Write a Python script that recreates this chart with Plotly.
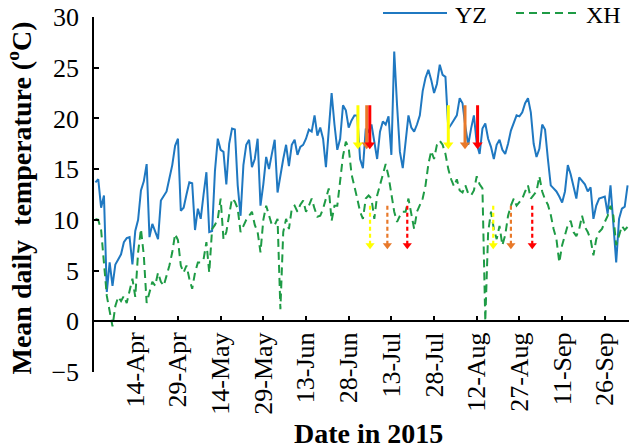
import pandas as pd
import plotly.graph_objects as go

# ---------------- data ----------------
start_date = "2015-03-31"

yz = [13.7, 14.0, 11.2, 12.4, 2.9, 5.8, 3.5, 5.6, 6.1, 6.6,
      7.8, 8.2, 8.3, 5.6, 8.9, 10.0, 12.9, 13.8, 15.5, 8.3,
      9.6, 8.9, 8.1, 11.9, 12.4, 12.8, 14.1, 15.4, 17.3, 18.0,
      10.9, 11.2, 12.5, 13.7, 13.6, 9.0, 11.1, 10.1, 12.5, 14.7,
      8.8, 8.9, 14.8, 18.0, 16.9, 16.7, 13.5, 17.5, 19.0, 18.9,
      13.4, 10.4, 15.4, 17.4, 17.9, 15.2, 16.0, 18.0, 11.4, 13.5,
      16.2, 15.0, 16.5, 17.9, 12.7, 14.5, 16.0, 17.4, 15.3, 17.4,
      17.9, 16.4, 17.2, 17.4, 18.0, 18.9, 18.7, 20.3, 18.3, 19.1,
      18.0, 15.2, 19.0, 22.5, 19.4, 16.9, 18.0, 21.3, 20.8, 19.1,
      19.8, 20.3, 20.3, 16.0, 15.1, 19.0, 18.7, 19.4, 17.7, 16.0,
      18.7, 19.7, 19.4, 20.2, 16.4, 26.6, 21.3, 16.7, 15.1, 18.0,
      20.3, 19.1, 18.7, 19.4, 20.3, 22.7, 24.0, 24.8, 23.8, 22.5,
      23.4, 25.3, 24.3, 24.1, 19.0, 19.4, 19.8, 20.3, 22.0, 21.5,
      19.2, 17.4, 19.0, 20.3, 17.5, 16.5, 19.0, 19.5, 18.0, 17.2,
      16.0, 17.4, 17.9, 16.9, 16.5, 17.5, 18.8, 19.5, 20.3, 20.2,
      20.6, 21.5, 22.0, 20.6, 17.5, 16.2, 17.0, 19.4, 18.9, 16.0,
      13.4, 13.1, 12.8, 12.3, 11.7, 12.8, 15.4, 14.5, 13.4, 12.1,
      14.2, 13.9, 13.5, 12.8, 13.2, 10.1, 11.4, 12.1, 12.2, 12.3,
      10.6, 13.4, 9.6, 5.8, 10.1, 11.1, 11.3, 13.4]

xh = [10.1, 10.0, 9.0, 5.5, 2.5, 1.0, -0.5, 1.5, 2.4, 2.0,
      2.5, 1.8, 2.9, 4.2, 2.4, 6.8, 9.1, 6.5, 1.8, 2.9,
      3.9, 3.5, 4.8, 3.9, 3.5, 4.5, 5.5, 6.8, 8.6, 8.0,
      5.5, 4.8, 5.5, 4.2, 3.2, 4.8, 5.8, 5.8, 6.1, 7.8,
      4.8, 9.1, 9.5, 10.1, 12.1, 8.1, 8.8, 10.5, 12.1, 11.8,
      11.1, 8.8, 9.4, 10.0, 10.4, 10.8, 9.5, 8.8, 6.8, 10.0,
      11.4, 10.4, 9.5, 9.5, 10.1, 1.2, 8.8, 10.1, 9.1, 11.1,
      11.4, 10.8, 11.5, 11.9, 10.8, 11.4, 12.1, 11.1, 10.3, 10.4,
      11.1, 12.1, 13.1, 9.9, 11.4, 11.4, 14.1, 16.3, 17.7, 17.1,
      14.5, 13.4, 12.1, 10.8, 10.1, 12.1, 12.4, 12.1, 10.1, 12.4,
      13.5, 14.3, 15.5, 14.3, 12.4, 10.8, 9.8, 10.4, 10.8, 10.8,
      12.1, 10.4, 9.1, 10.8, 11.5, 12.1, 13.4, 15.5, 16.8, 16.0,
      17.4, 17.8, 17.4, 16.5, 15.0, 14.0, 13.3, 14.0, 12.9, 12.7,
      13.4, 12.6, 12.4, 12.9, 14.3, 13.5, 13.1, 0.0, 8.8, 10.8,
      9.1, 8.1, 9.4, 7.5, 8.5, 10.4, 11.4, 12.1, 11.4, 11.8,
      12.1, 12.8, 13.4, 12.1, 12.5, 12.8, 14.3, 12.8, 12.0, 11.5,
      10.5, 9.1, 8.1, 5.8, 7.5, 8.5, 9.5, 9.9, 8.8, 8.4,
      9.1, 10.4, 9.3, 8.8, 8.1, 6.5, 8.1, 8.8, 9.1, 9.8,
      10.4, 11.4, 10.4, 7.5, 8.5, 9.4, 9.0, 9.3]

series_names = ["YZ", "XH"]

tick_dates = ["2015-04-14", "2015-04-29", "2015-05-14", "2015-05-29",
              "2015-06-13", "2015-06-28", "2015-07-13", "2015-07-28",
              "2015-08-12", "2015-08-27", "2015-09-11", "2015-09-26"]
tick_labels = ["14-Apr", "29-Apr", "14-May", "29-May", "13-Jun", "28-Jun",
               "13-Jul", "28-Jul", "12-Aug", "27-Aug", "11-Sep", "26-Sep"]
y_ticks = [-5, 0, 5, 10, 15, 20, 25, 30]

# event arrows (yellow, orange, red in each group)
solid_arrow_dates = ["2015-07-01 06:00", "2015-07-04 08:00", "2015-07-05 10:00",
                     "2015-08-02 00:00", "2015-08-07 21:00", "2015-08-12 07:00"]
solid_arrow_top = 21.3
solid_arrow_head = 17.4
dashed_arrow_dates = ["2015-07-05 12:00", "2015-07-11 14:00", "2015-07-18 14:00",
                      "2015-08-17 19:00", "2015-08-24 00:00", "2015-08-31 12:00"]
dashed_arrow_top = 11.4
dashed_arrow_head = 7.5

# ---------------- styles ----------------
BLUE = "#1f78c1"
GREEN = "#1e9b45"
ARROW_COLORS = ["#FFFF00", "#E8792A", "#FF0000"]
SERIF = "Liberation Serif, Times New Roman, serif"

dates = pd.date_range(start_date, periods=len(yz), freq="D")

fig = go.Figure()
fig.add_trace(go.Scatter(x=dates, y=yz, mode="lines", name=series_names[0],
                         line=dict(color=BLUE, width=2), showlegend=False))
fig.add_trace(go.Scatter(x=dates, y=xh, mode="lines", name=series_names[1],
                         line=dict(color=GREEN, width=2, dash="8px,5px"),
                         showlegend=False))


def add_arrows(arrow_dates, top, head, dash, width, msize):
    for i, d in enumerate(arrow_dates):
        c = ARROW_COLORS[i % 3]
        fig.add_trace(go.Scatter(x=[d, d], y=[top, head], mode="lines",
                                 line=dict(color=c, width=width, dash=dash),
                                 showlegend=False, hoverinfo="skip"))
        fig.add_trace(go.Scatter(x=[d], y=[head], mode="markers",
                                 marker=dict(symbol="triangle-down", size=msize,
                                             color=c, line=dict(width=0)),
                                 showlegend=False, hoverinfo="skip"))


add_arrows(solid_arrow_dates, solid_arrow_top, solid_arrow_head, "solid", 3, 9)
add_arrows(dashed_arrow_dates, dashed_arrow_top, dashed_arrow_head, "4px,3px", 2.2, 8)

# plot-area geometry (pixels) used for paper placement of layout text
L, R, T, B = 94, 4, 17, 76
W, H = 633, 448
pw, ph = W - L - R, H - T - B


def px_x(px):
    return (px - L) / pw


def px_y(py):
    return (H - B - py) / ph


fig.update_layout(
    width=W, height=H, autosize=False,
    margin=dict(l=L, r=R, t=T, b=B, pad=0),
    paper_bgcolor="white", plot_bgcolor="white",
    font=dict(family=SERIF, color="black"),
    xaxis=dict(
        type="date",
        range=["2015-03-30 12:00", "2015-10-04 12:00"],
        tickmode="array", tickvals=tick_dates, ticktext=tick_labels,
        tickangle=-90, tickfont=dict(family=SERIF, size=26, color="black"),
        ticks="inside", ticklen=5, tickwidth=1.5, tickcolor="black",
        showline=True, linecolor="black", linewidth=1.5,
        showgrid=False, zeroline=False,
        anchor="free", position=5 / 35,
        ticklabelstandoff=0,
        automargin=False,
    ),
    yaxis=dict(
        range=[-5, 30], tickvals=y_ticks,
        tickfont=dict(family=SERIF, size=26, color="black"),
        ticks="inside", ticklen=5, tickwidth=1.5, tickcolor="black",
        showline=True, linecolor="black", linewidth=1.5,
        showgrid=False, zeroline=False, automargin=False,
        ticklabelstandoff=8,
    ),
)

# manual legend
fig.add_shape(type="line", xref="paper", yref="paper",
              x0=px_x(383), x1=px_x(447), y0=px_y(13), y1=px_y(13),
              line=dict(color=BLUE, width=2))
fig.add_shape(type="line", xref="paper", yref="paper",
              x0=px_x(516), x1=px_x(579), y0=px_y(13), y1=px_y(13),
              line=dict(color=GREEN, width=2, dash="8px,5px"))
fig.add_annotation(text=series_names[0], xref="paper", yref="paper",
                   x=px_x(453), y=px_y(15), xanchor="left", yanchor="middle",
                   showarrow=False, font=dict(family=SERIF, size=24, color="black"))
fig.add_annotation(text=series_names[1], xref="paper", yref="paper",
                   x=px_x(584), y=px_y(15), xanchor="left", yanchor="middle",
                   showarrow=False, font=dict(family=SERIF, size=24, color="black"))

# axis titles
fig.add_annotation(text="<b>Mean daily\u00a0 temperature (<sup>o</sup>C)</b>",
                   xref="paper", yref="paper", x=px_x(0), y=px_y(198),
                   textangle=-90, showarrow=False, xanchor="left", yanchor="middle",
                   font=dict(family=SERIF, size=28, color="black"))
fig.add_annotation(text="<b>Date in 2015</b>", xref="paper", yref="paper",
                   x=px_x(369), y=px_y(433), showarrow=False,
                   xanchor="center", yanchor="middle",
                   font=dict(family=SERIF, size=28, color="black"))

fig.write_html(
    "out.html",
    config={"displayModeBar": False},
    post_script="document.body.style.margin='0';document.body.style.overflow='hidden';",
)
